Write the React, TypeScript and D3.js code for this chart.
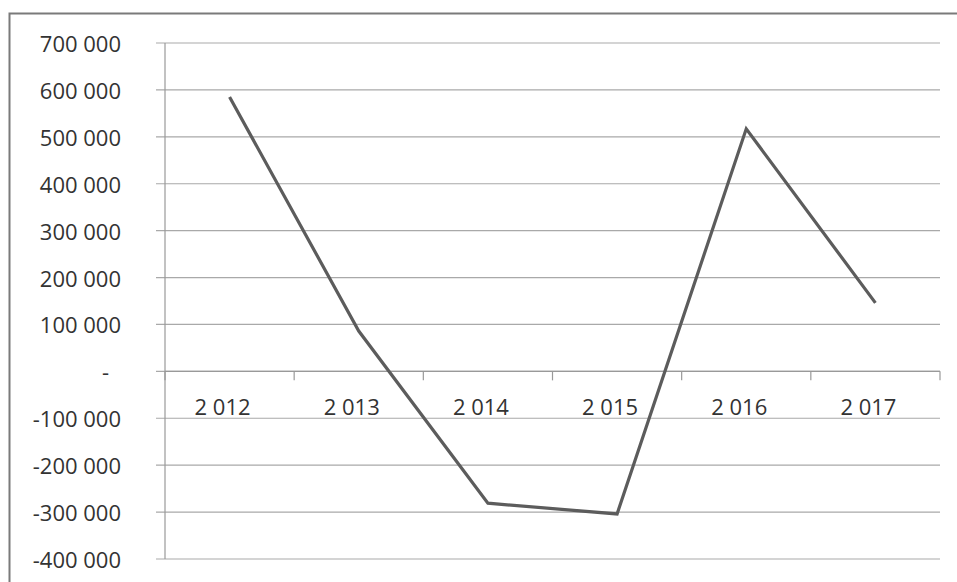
import React from "react";
import * as d3 from "d3";

const years = ["2 012", "2 013", "2 014", "2 015", "2 016", "2 017"];
const values = [585000, 86000, -281000, -304000, 517000, 146000];
const yTicks = [700000, 600000, 500000, 400000, 300000, 200000, 100000, 0, -100000, -200000, -300000, -400000];

const W = 957;
const H = 582;
const left = 165;
const right = 940;
const top = 43;
const bottom = 559;

function fmt(v: number): string {
  if (v === 0) return "-";
  const s = Math.abs(v).toString().replace(/\B(?=(\d{3})+(?!\d))/g, " ");
  return (v < 0 ? "-" : "") + s;
}

export default function App() {
  const x = d3.scaleBand<string>().domain(years).range([left, right]).padding(0);
  const y = d3.scaleLinear().domain([-400000, 700000]).range([bottom, top]);
  const line = d3
    .line<number>()
    .x((_, i) => (x(years[i]) as number) + x.bandwidth() / 2)
    .y((d) => y(d));
  const y0 = y(0);
  const font = "'Open Sans', 'Liberation Sans', sans-serif";
  const boundaries = years.map((yr) => x(yr) as number).concat([right]);

  return (
    <svg
      width={W}
      height={H}
      style={{ position: "absolute", left: 0, top: 0, background: "#fff" }}
    >
      <rect x={0} y={0} width={W} height={H} fill="#fff" />
      <rect x={9.5} y={13.5} width={W + 20} height={H + 20} fill="none" stroke="#7a7a7a" strokeWidth={2} />
      {yTicks.map((t) => (
        <line
          key={"g" + t}
          x1={left - 9}
          x2={right}
          y1={y(t)}
          y2={y(t)}
          stroke="#a9a9a9"
          strokeWidth={1.2}
        />
      ))}
      <line x1={left} x2={left} y1={top} y2={bottom} stroke="#999" strokeWidth={1.2} />
      <line x1={left} x2={right} y1={y0} y2={y0} stroke="#999" strokeWidth={1.2} />
      {boundaries.map((b, i) => (
        <line key={"t" + i} x1={b} x2={b} y1={y0} y2={y0 + 9} stroke="#999" strokeWidth={1.2} />
      ))}
      {yTicks.map((t) => (
        <text
          key={"l" + t}
          x={t === 0 ? 109 : 121}
          y={y(t)}
          textAnchor="end"
          dominantBaseline="central"
          fontFamily={font}
          fontSize={22}
          fill="#333"
        >
          {fmt(t)}
        </text>
      ))}
      {years.map((yr) => (
        <text
          key={"x" + yr}
          x={(x(yr) as number) + x.bandwidth() / 2 - 7}
          y={406}
          textAnchor="middle"
          dominantBaseline="central"
          fontFamily={font}
          fontSize={22}
          fill="#333"
        >
          {yr}
        </text>
      ))}
      <path
        d={line(values) || ""}
        fill="none"
        stroke="#5c5c5c"
        strokeWidth={3.2}
        strokeLinejoin="miter"
      />
    </svg>
  );
}
